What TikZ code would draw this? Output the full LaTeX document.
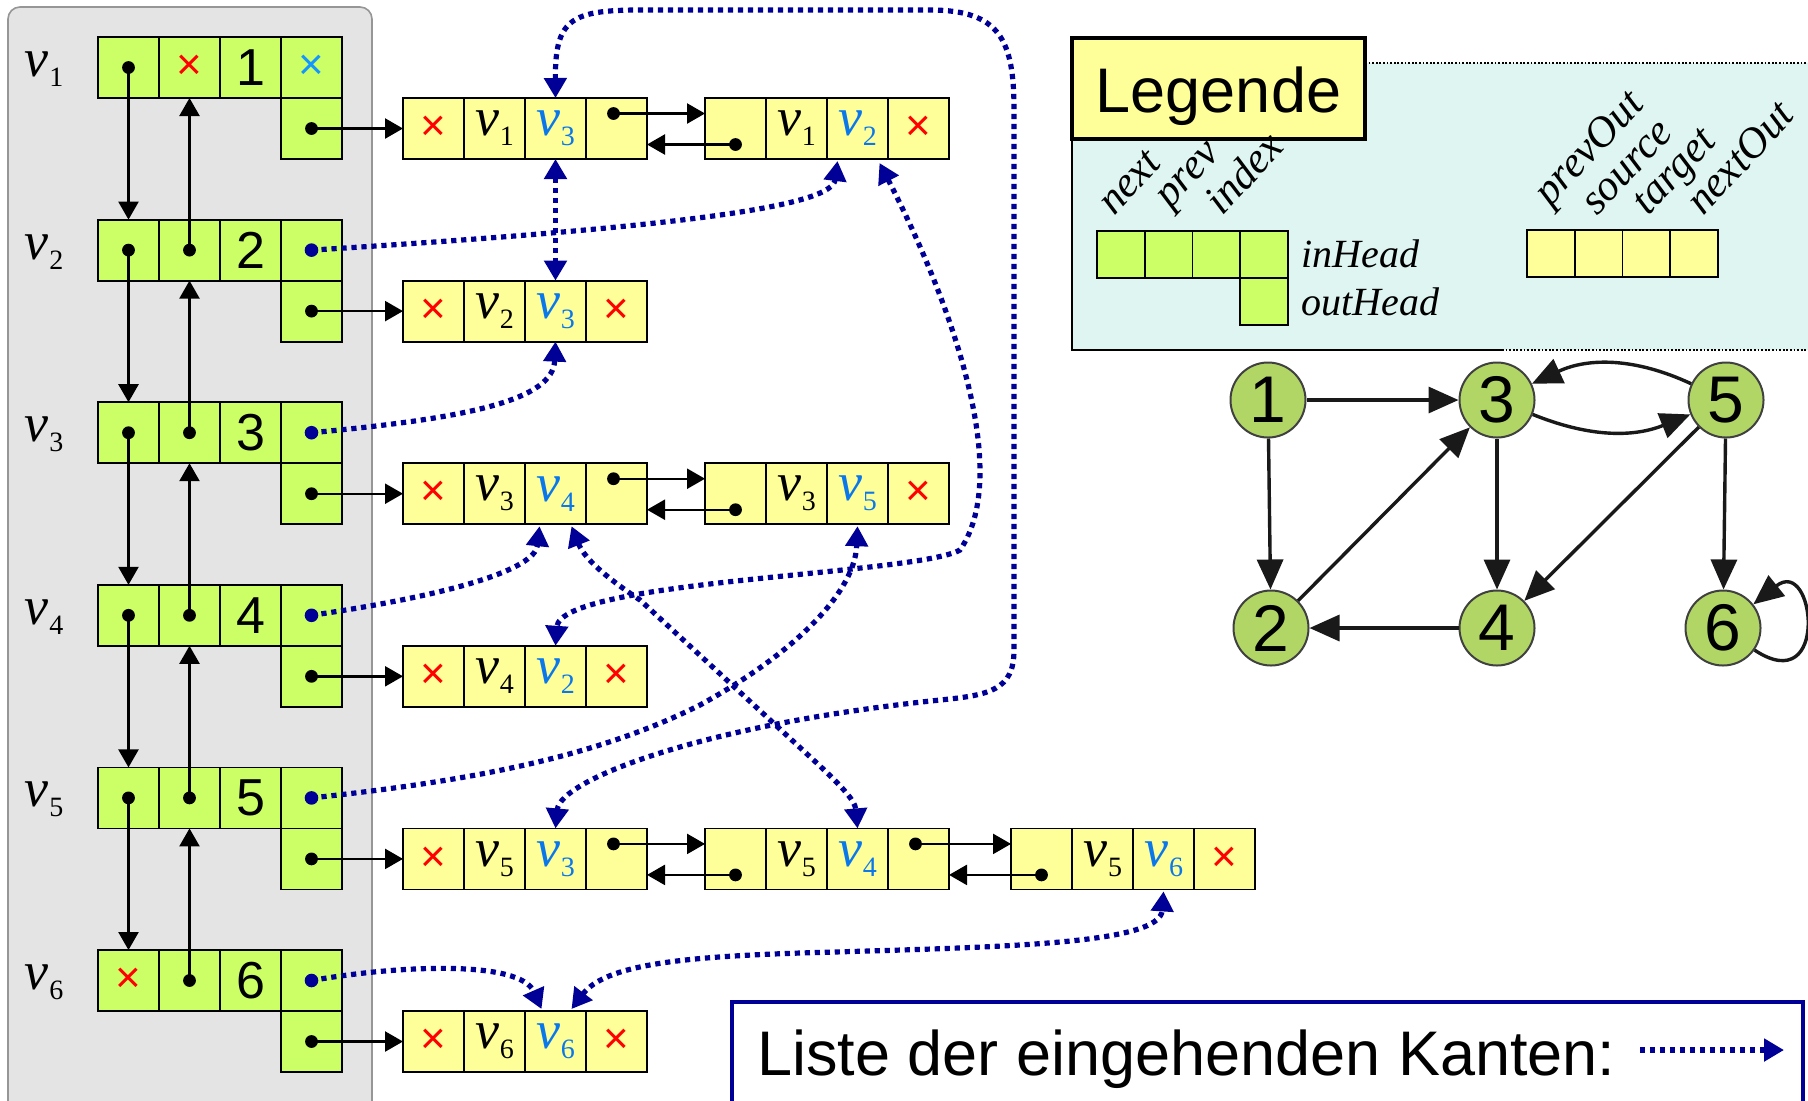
\documentclass[tikz,border=0pt]{standalone}
\usepackage{fontspec}
\setmainfont{Liberation Serif}
\setsansfont{Liberation Sans}
\usetikzlibrary{arrows.meta,calc}
\definecolor{gcell}{RGB}{204,255,102}
\definecolor{ycell}{RGB}{255,255,153}
\definecolor{navy}{RGB}{0,0,150}
\definecolor{vblue}{RGB}{10,120,235}
\definecolor{lblue}{RGB}{20,150,255}
\definecolor{graybg}{RGB}{228,228,228}
\definecolor{graybd}{RGB}{150,150,150}
\definecolor{legbg}{RGB}{222,245,241}
\definecolor{gnode}{RGB}{178,214,102}
\newcommand\vsub[1]{\textit{v}\kern0.5pt\raisebox{-5pt}{\fontsize{14}{14}\selectfont #1}}
\newcommand\vb[1]{\textcolor{vblue}{\vsub{#1}}}
\newcommand\rx{\textcolor{red}{\sffamily\fontsize{22}{22}\selectfont ×}}
\newcommand\lbx{\textcolor{lblue}{\sffamily\fontsize{22}{22}\selectfont ×}}
\tikzset{
  gc/.style={draw=black, line width=0.9pt, fill=gcell, minimum width=30.5pt, minimum height=30.5pt, inner sep=0pt, outer sep=0pt, anchor=north west, font=\sffamily\fontsize{26}{26}\selectfont},
  yc/.style={gc, fill=ycell, font=\fontsize{27}{27}\selectfont},
  blk/.style={draw=black, line width=1.2pt, -{Triangle[length=9pt,width=10pt]}},
  inl/.style={draw=navy, line width=2.6pt, dash pattern=on 2.6pt off 2.4pt, -{Triangle[length=10pt,width=11pt]}},
  inlb/.style={inl, {Triangle[length=10pt,width=11pt]}-{Triangle[length=10pt,width=11pt]}},
  gnd/.style={circle, draw=black!75, line width=1pt, fill=gnode, minimum size=37.5pt, inner sep=0pt, font=\sffamily\fontsize{33}{33}\selectfont},
  ge/.style={draw=black!90, line width=1.7pt, -{Triangle[length=15pt,width=13pt]}},
  lgc/.style={gc, minimum width=23.9pt, minimum height=23.5pt},
  lyc/.style={lgc, fill=ycell},
  rl/.style={anchor=base west, rotate=47, font=\itshape\fontsize{21.5}{21.5}\selectfont, inner sep=0pt},
  hl/.style={anchor=base west, font=\itshape\fontsize{20}{20}\selectfont, inner sep=0pt},
}
\newcommand\grow[6]{%
  \node[gc] (gn#1) at (98,#2) {#3};
  \node[gc] (gp#1) at (159,#2) {#4};
  \node[gc] (gx#1) at (220,#2) {#5};
  \node[gc] (gi#1) at (281,#2) {#6};
  \node[gc] (go#1) at (281,#2+61) {};
  \node[font=\fontsize{27}{27}\selectfont, inner sep=0pt] (gl#1) at (44,#2+32) {\vsub{#1}};
}
\newcommand\elist[7]{%
  \node[yc] (#1c1) at (#2,#3) {#4};
  \node[yc] (#1c2) at (#2+61,#3) {#5};
  \node[yc] (#1c3) at (#2+122,#3) {#6};
  \node[yc] (#1c4) at (#2+183,#3) {#7};
}
\newcommand\elink[2]{%
  \coordinate (#1nd) at ($(#1c4.center)+(-3,-15)$);
  \coordinate (#2pd) at ($(#2c1.center)+(0,16)$);
  \fill (#1nd) circle[radius=3.2pt];
  \fill (#2pd) circle[radius=3.2pt];
  \draw[blk] (#1nd) -- (#1nd -| #2c1.west);
  \draw[blk] (#2pd) -- (#2pd -| #1c4.east);
}
\begin{document}
\begin{tikzpicture}[x=0.5pt,y=-0.5pt]
\useasboundingbox (0,0) rectangle (1808,1100);
\draw[graybd, fill=graybg, line width=0.8pt, rounded corners=6pt] (8,7) rectangle (372,1130);
% vertex array
\grow{1}{37}{}{\rx}{1}{\raisebox{-2pt}{\lbx}}
\grow{2}{219.6}{}{}{2}{}
\grow{3}{402.2}{}{}{3}{}
\grow{4}{584.8}{}{}{4}{}
\grow{5}{767.4}{}{}{5}{}
\grow{6}{950}{\rx}{}{6}{}
\foreach \i in {1,...,5} \fill (gn\i.center) circle[radius=3.2pt];
\foreach \i in {2,...,6} \fill (gp\i.center) circle[radius=3.2pt];
\foreach \i in {2,...,6} \fill[navy] (gi\i.center) circle[radius=3.4pt];
\foreach \i in {1,...,6} \fill (go\i.center) circle[radius=3.2pt];
\foreach \i/\j in {1/2,2/3,3/4,4/5,5/6} {\draw[blk] (gn\i.center) -- (gn\j.north); \draw[blk] (gp\j.center) -- (gp\i.south);}
% edge lists
\elist{r1a}{403}{98}{\rx}{\vsub1}{\vb3}{}
\elist{r1b}{705}{98}{}{\vsub1}{\vb2}{\rx}
\elist{r2a}{403}{280.6}{\rx}{\vsub2}{\vb3}{\rx}
\elist{r3a}{403}{463.2}{\rx}{\vsub3}{\vb4}{}
\elist{r3b}{705}{463.2}{}{\vsub3}{\vb5}{\rx}
\elist{r4a}{403}{645.8}{\rx}{\vsub4}{\vb2}{\rx}
\elist{r5a}{403}{828.4}{\rx}{\vsub5}{\vb3}{}
\elist{r5b}{705}{828.4}{}{\vsub5}{\vb4}{}
\elist{r5c}{1011}{828.4}{}{\vsub5}{\vb6}{\rx}
\elist{r6a}{403}{1011}{\rx}{\vsub6}{\vb6}{\rx}
\foreach \i/\t in {1/r1ac1,2/r2ac1,3/r3ac1,4/r4ac1,5/r5ac1,6/r6ac1} \draw[blk] (go\i.center) -- (\t.west);
\elink{r1a}{r1b}
\elink{r3a}{r3b}
\elink{r5a}{r5b}
\elink{r5b}{r5c}
% incoming lists
\draw[inl] (gi2.center) .. controls (700,226) and (832,205) .. ($(r1bc3.south)+(-20,2)$);
\draw[inlb] ($(r1bc3.south)+(22,4)$) .. controls (945,290) and (1015,470) .. (960,550) .. controls (915,575) and (560,580) .. (r4ac3.north);
\draw[inl] (gi3.center) .. controls (470,418) and (553,400) .. (r2ac3.south);
\draw[inlb] (r1ac3.south) -- (r2ac3.north);
\draw[inlb] (r1ac3.north) .. controls (555,20) and (570,10) .. (640,10) -- (930,10) .. controls (1000,10) and (1014,40) .. (1014,110) -- (1014,650) .. controls (1014,690) and (990,695) .. (940,700) .. controls (700,725) and (560,780) .. (r5ac3.north);
\draw[inl] (gi4.center) .. controls (450,595) and (535,570) .. ($(r3ac3.south)+(-16,2)$);
\draw[inlb] ($(r3ac3.south)+(16,2)$) .. controls (585,560) and (610,580) .. (640,600) -- (820,766) .. controls (840,785) and (855,800) .. (r5bc3.north);
\draw[inl] (gi5.center) .. controls (480,780) and (600,755) .. (700,705) .. controls (800,650) and (855,590) .. ($(r3bc3.south)+(0,2)$);
\draw[inl] (gi6.center) .. controls (400,965) and (520,960) .. ($(r6ac3.north)+(-14,-2)$);
\draw[inlb] ($(r6ac3.north)+(16,-2)$) .. controls (605,965) and (680,957) .. (800,953) .. controls (1000,947) and (1160,945) .. ($(r5cc3.south)+(0,2)$);
% legend
\fill[legbg] (1072,63) rectangle (1808,350);
\draw[line width=0.8pt] (1072,139) -- (1072,350) -- (1502,350);
\draw[line width=1.4pt, dash pattern=on 0.9pt off 0.9pt] (1502,350) -- (1808,350);
\draw[line width=1.4pt, dash pattern=on 0.9pt off 0.9pt] (1365,63) -- (1808,63);
\node[draw=black, line width=2pt, fill=ycell, minimum width=146.5pt, minimum height=50.5pt, inner sep=0pt] (legbox) at (1218.5,88.5) {};
\node[anchor=base, font=\sffamily\fontsize{31.5}{31.5}\selectfont, inner sep=0pt] (legtxt) at (1218.5,112) {Legende};
\node[lgc] (lg1) at (1097,231) {};
\node[lgc] (lg2) at (1144.75,231) {};
\node[lgc] (lg3) at (1192.5,231) {};
\node[lgc] (lg4) at (1240.25,231) {};
\node[lgc] (lg5) at (1240.25,278) {};
\node[lyc] (ly1) at (1527,230) {};
\node[lyc] (ly2) at (1574.75,230) {};
\node[lyc] (ly3) at (1622.5,230) {};
\node[lyc] (ly4) at (1670.25,230) {};
\node[hl] (tin) at (1301,267) {inHead};
\node[hl] (tout) at (1301,315) {outHead};
\node[rl] (tnext) at (1114,217) {next};
\node[rl] (tprev) at (1170,210) {prev};
\node[rl] (tindex) at (1222,217) {index};
\node[rl] (tpo) at (1550,208) {prevOut};
\node[rl] (tsrc) at (1597,217) {source};
\node[rl] (ttgt) at (1648,217) {target};
\node[rl] (tno) at (1703,217) {nextOut};
% graph
\node[gnd] (n1) at (1268,400) {1};
\node[gnd] (n3) at (1497,400) {3};
\node[gnd] (n5) at (1726,400) {5};
\node[gnd] (n2) at (1271,628) {2};
\node[gnd] (n4) at (1497,628) {4};
\node[gnd] (n6) at (1723,628) {6};
\draw[ge] (n1) -- (n3);
\draw[ge] (n1) -- (n2);
\draw[ge] (n3) -- (n4);
\draw[ge] (n5) -- (n6);
\draw[ge] (n5) -- (n4);
\draw[ge] (n2) -- (n3);
\draw[ge] (n4) -- (n2);
\draw[ge] (n3) to[bend right=22] (n5);
\draw[ge] (n5) to[bend right=25] (n3);
\draw[ge] (n6.-35) .. controls (1830,700) and (1815,555) .. (n6.38);
% bottom box
\draw[navy, line width=1.6pt] (732,1002) rectangle (1803,1120);
\node[anchor=base west, font=\sffamily\fontsize{31.5}{31.5}\selectfont, inner sep=0pt] (liste) at (757,1075) {Liste der eingehenden Kanten:};
\coordinate (la) at (1640,1050);
\coordinate (lb) at (1784,1050);
\draw[inl] (la) -- (lb);
\end{tikzpicture}
\end{document}
